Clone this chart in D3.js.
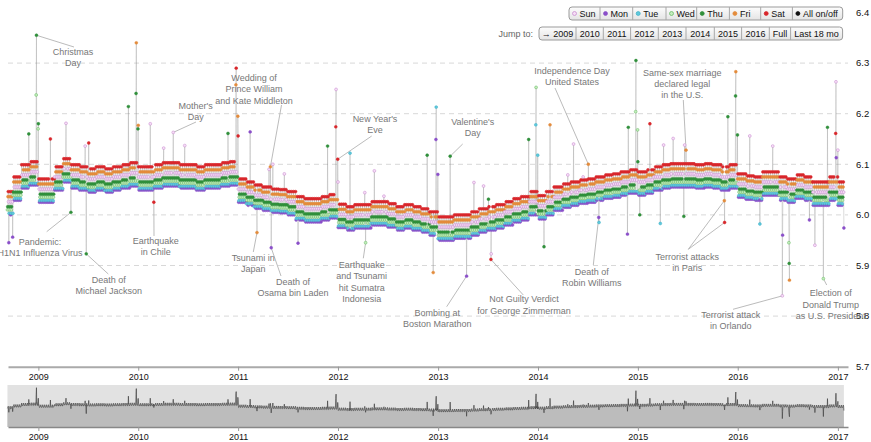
<!DOCTYPE html>
<html>
<head>
<meta charset="utf-8">
<script src="https://cdn.jsdelivr.net/npm/d3@7"></script>
<style>
  body { margin: 0; background: #fff; font-family: "Liberation Sans", Arial, Helvetica, sans-serif; }
  svg { display: block; }
</style>
</head>
<body>
<div id="chart"></div>
<script>
// ---- data ----
// average level per month, Sep 2008 .. Jan 2017
const monthLevel = [
  6.020, 6.049, 6.073, 6.079,
  6.045, 6.045, 6.069, 6.085, 6.073, 6.069, 6.065, 6.069, 6.065, 6.069, 6.073, 6.077,
  6.069, 6.069, 6.073, 6.077, 6.077, 6.073, 6.073, 6.069, 6.073, 6.073, 6.077, 6.079,
  6.045, 6.039, 6.033, 6.029, 6.025, 6.024, 6.020, 6.010, 6.006, 6.006, 6.010, 6.014,
  5.995, 5.990, 5.994, 5.994, 6.000, 6.000, 5.996, 5.990, 5.994, 5.990, 5.986, 5.980,
  5.970, 5.970, 5.974, 5.974, 5.980, 5.986, 5.990, 5.994, 6.000, 6.006, 6.010, 6.020,
  6.012, 6.020, 6.029, 6.035, 6.039, 6.043, 6.045, 6.049, 6.053, 6.055, 6.059, 6.063,
  6.059, 6.063, 6.069, 6.073, 6.075, 6.075, 6.075, 6.073, 6.075, 6.073, 6.069, 6.073,
  6.055, 6.051, 6.049, 6.059, 6.059, 6.049, 6.045, 6.053, 6.049, 6.039, 6.039, 6.049,
  6.039
];
const dayNames = ["Sun", "Mon", "Tue", "Wed", "Thu", "Fri", "Sat"];
const dayOffset = [0.006, -0.020, -0.017, -0.010, -0.004, 0.016, 0.026];

// single days that stand out
const spikeDates = [
  "2008-09-15","2008-09-29","2008-11-27","2008-12-24","2008-12-25","2008-12-31","2009-01-01","2009-02-14",
  "2009-04-12","2009-04-30","2009-06-21","2009-06-25","2009-07-04","2009-11-26","2009-12-24","2009-12-25",
  "2009-12-31","2010-01-01","2010-02-14","2010-02-27","2010-04-04","2010-05-09","2010-06-20","2010-11-25",
  "2010-12-24","2010-12-25","2010-12-31","2011-01-01","2011-02-14","2011-03-11","2011-04-24","2011-04-29",
  "2011-05-02","2011-05-08","2011-06-19","2011-08-08","2011-11-24","2011-12-24","2011-12-25","2011-12-31",
  "2012-01-01","2012-02-14","2012-04-08","2012-04-11","2012-05-13","2012-06-17","2012-11-22","2012-12-14",
  "2012-12-24","2012-12-25","2012-12-31","2013-02-14","2013-04-15","2013-05-12","2013-06-16","2013-07-04",
  "2013-07-13","2013-07-14","2013-11-28","2013-12-24","2013-12-25","2013-12-31","2014-01-23","2014-02-14",
  "2014-04-20","2014-05-11","2014-06-15","2014-07-04","2014-08-11","2014-08-12","2014-11-24","2014-11-27",
  "2014-12-24","2014-12-25","2014-12-31","2015-01-01","2015-01-08","2015-02-14","2015-03-24","2015-04-05",
  "2015-05-10","2015-06-18","2015-06-21","2015-06-26","2015-11-13","2015-11-14","2015-11-26","2015-12-24",
  "2015-12-25","2015-12-31","2016-02-14","2016-03-22","2016-05-08","2016-06-12","2016-06-13","2016-07-06",
  "2016-07-07","2016-07-08","2016-09-19","2016-10-09","2016-11-09","2016-11-24","2016-12-24","2016-12-25",
  "2016-12-26","2017-01-01","2017-01-23"
];
const spikeValues = [
  5.945, 5.956, 6.160, 6.237, 6.355, 6.170, 6.180, 6.150,
  6.181, 6.005, 6.136, 5.923, 6.142, 6.214, 6.240, 6.340,
  6.170, 6.177, 6.180, 6.025, 6.132, 6.163, 6.137, 6.161,
  6.257, 6.290, 6.195, 6.156, 6.164, 5.965, 6.090, 6.095,
  5.935, 6.100, 6.081, 5.944, 6.136, 6.174, 6.248, 6.110,
  6.065, 6.122, 6.044, 5.945, 6.087, 6.037, 6.118, 5.886,
  6.149, 6.213, 6.080, 6.116, 5.879, 6.064, 6.057, 6.031,
  5.912, 5.923, 6.149, 6.178, 6.252, 6.118, 5.937, 6.178,
  6.079, 6.140, 6.075, 6.100, 5.995, 5.985, 5.962, 6.173,
  6.204, 6.305, 6.168, 6.105, 6.000, 6.180, 5.983, 6.138,
  6.151, 5.997, 6.138, 6.128, 6.028, 5.985, 6.194, 6.235,
  6.283, 6.158, 6.156, 5.982, 6.136, 5.840, 5.960, 5.945,
  5.904, 5.871, 5.990, 5.940, 5.874, 6.173, 6.161, 6.263,
  6.113, 6.128, 5.974
];

const yTicks = [5.7, 5.8, 5.9, 6.0, 6.1, 6.2, 6.3, 6.4];
const jumpLabels = ["\u2192 2009", "2010", "2011", "2012", "2013", "2014", "2015", "2016", "Full", "Last 18 mo"];

// ---- styles / layout ----
const width = 871, height = 442;
const dayFill   = ["#f6ddf6", "#8a4fc9", "#5fc8dc", "#c4ecbd", "#2f8f3a", "#e38b3b", "#d8262b", "#111"];
const dayStroke = ["#c487cc", "#8a4fc9", "#3fb0c6", "#62b85e", "#2f8f3a", "#e38b3b", "#d8262b", "#111"];
const dayBtnW = [31, 32.7, 33.3, 30.7, 32.7, 31.3, 31.7, 50.3];
const jumpBtnW = [37, 27.3, 27.3, 27.7, 27.7, 28.3, 27.3, 27.7, 21.3, 52];

// annotation layout: label centre, line start (near label)
const notes = [
  { dates: ["2008-12-25"], text: ["Christmas", "Day"], lx: 73, ly: 52, ex: 74, ey: 47 },
  { dates: ["2010-05-09"], text: ["Mother's", "Day"], lx: 195.7, ly: 106, ex: 196, ey: 122 },
  { dates: ["2011-04-29"], text: ["Wedding of", "Prince William", "and Kate Middleton"], lx: 254, ly: 78, ex: 281.5, ey: 105 },
  { dates: ["2011-12-31"], text: ["New Year's", "Eve"], lx: 375, ly: 119, ex: 371.7, ey: 136 },
  { dates: ["2013-02-14"], text: ["Valentine's", "Day"], lx: 472.7, ly: 121.7, ex: 462.7, ey: 144 },
  { dates: ["2014-07-04"], text: ["Independence Day", "United States"], lx: 572, ly: 71, ex: 555, ey: 88 },
  { dates: ["2015-06-26"], text: ["Same-sex marriage", "declared legal", "in the U.S."], lx: 682.3, ly: 72.7, ex: 683.3, ey: 100 },
  { dates: ["2009-04-30"], text: ["Pandemic:", "H1N1 Influenza Virus"], lx: 40, ly: 241.7, ex: 46.7, ey: 231.7 },
  { dates: ["2009-06-25"], text: ["Death of", "Michael Jackson"], lx: 108.7, ly: 280, ex: 108.3, ey: 274 },
  { dates: ["2010-02-27"], text: ["Earthquake", "in Chile"], lx: 155.8, ly: 240.7, ex: 154, ey: 236 },
  { dates: ["2011-03-11"], text: ["Tsunami in", "Japan"], lx: 253.3, ly: 257.7, ex: 253.3, ey: 252 },
  { dates: ["2011-05-02"], text: ["Death of", "Osama bin Laden"], lx: 293, ly: 281.7, ex: 281, ey: 276 },
  { dates: ["2012-04-11"], text: ["Earthquake", "and Tsunami", "hit Sumatra", "Indonesia"], lx: 361.7, ly: 265, ex: 363.3, ey: 258.3 },
  { dates: ["2013-04-15"], text: ["Bombing at", "Boston Marathon"], lx: 437.3, ly: 312.7, ex: 446.7, ey: 306.7 },
  { dates: ["2013-07-13"], text: ["Not Guilty Verdict", "for George Zimmerman"], lx: 524, ly: 299.3, ex: 523.3, ey: 295 },
  { dates: ["2014-08-11"], text: ["Death of", "Robin Williams"], lx: 591.7, ly: 271.7, ex: 593.3, ey: 265 },
  { dates: ["2015-11-13", "2015-11-14"], text: ["Terrorist attacks", "in Paris"], lx: 687.3, ly: 256.7, ex: 688.3, ey: 249.3 },
  { dates: ["2016-06-12"], text: ["Terrorist attack", "in Orlando"], lx: 730.7, ly: 315, ex: 733, ey: 309.3 },
  { dates: ["2016-11-09"], text: ["Election of", "Donald Trump", "as U.S. President"], lx: 830.7, ly: 293.3, ex: 826.7, ey: 285 }
];

// ---- build daily series ----
const parse = d3.utcParse("%Y-%m-%d");
const fmt = d3.utcFormat("%Y-%m-%d");
const spikeMap = new Map(spikeDates.map((d, i) => [d, spikeValues[i]]));
const days = d3.utcDay.range(parse("2008-09-10"), parse("2017-01-24"));
const data = days.map(d => {
  const m = (d.getUTCFullYear() - 2008) * 12 + d.getUTCMonth() - 8;
  const dow = d.getUTCDay();
  const k = fmt(d);
  const value = spikeMap.has(k) ? spikeMap.get(k) : monthLevel[m] + dayOffset[dow];
  return { date: d, key: k, dow, value };
});
const byKey = new Map(data.map(d => [d.key, d]));

// ---- scales ----
const x = d3.scaleUtc().domain([parse("2008-09-12"), parse("2017-02-07")]).range([8, 848]);
const y = d3.scaleLinear().domain([5.7, 6.4]).range([366.7, 12.5]);
const y2 = d3.scaleLinear().domain([5.7, 6.4]).range([427, 385]);

const svg = d3.select("#chart").append("svg")
  .attr("width", width)
  .attr("height", height)
  .style("font-family", "'Liberation Sans', Arial, Helvetica, sans-serif");

const defs = svg.append("defs");
const grad = defs.append("linearGradient").attr("id", "btn").attr("x1", 0).attr("y1", 0).attr("x2", 0).attr("y2", 1);
grad.append("stop").attr("offset", "0%").attr("stop-color", "#fdfdfd");
grad.append("stop").attr("offset", "100%").attr("stop-color", "#e4e4e4");

// gridlines
svg.append("g")
  .selectAll("line")
  .data(yTicks.filter(t => t > 5.75 && t < 6.35))
  .join("line")
  .attr("x1", 8).attr("x2", 848)
  .attr("y1", d => y(d)).attr("y2", d => y(d))
  .attr("stroke", "#d8d8d8")
  .attr("stroke-dasharray", "5,4");

// y labels on right
svg.append("g")
  .selectAll("text")
  .data(yTicks)
  .join("text")
  .attr("x", 856)
  .attr("y", d => y(d))
  .attr("dy", "0.35em")
  .attr("font-size", 9.5)
  .attr("fill", "#111")
  .text(d => d.toFixed(1));

// day-to-day connecting segments
const segs = d3.pairs(data);
svg.append("g")
  .selectAll("line")
  .data(segs)
  .join("line")
  .attr("x1", d => x(d[0].date)).attr("y1", d => y(d[0].value))
  .attr("x2", d => x(d[1].date)).attr("y2", d => y(d[1].value))
  .attr("stroke", "#888")
  .attr("stroke-opacity", 0.38)
  .attr("stroke-width", 0.8);

// annotation leader lines
const noteG = svg.append("g");
notes.forEach(n => {
  n.dates.forEach(k => {
    const p = byKey.get(k);
    noteG.append("line")
      .attr("x1", x(p.date)).attr("y1", y(p.value))
      .attr("x2", n.ex).attr("y2", n.ey)
      .attr("stroke", "#aaa")
      .attr("stroke-width", 0.8);
  });
});

// dots
svg.append("g")
  .selectAll("circle")
  .data(data)
  .join("circle")
  .attr("cx", d => x(d.date))
  .attr("cy", d => y(d.value))
  .attr("r", 1.45)
  .attr("fill", d => dayFill[d.dow])
  .attr("stroke", d => dayStroke[d.dow])
  .attr("stroke-width", 0.5);

// annotation text
notes.forEach(n => {
  noteG.append("text")
    .attr("text-anchor", "middle")
    .attr("font-size", 9)
    .attr("fill", "#777")
    .selectAll("tspan")
    .data(n.text)
    .join("tspan")
    .attr("x", n.lx)
    .attr("y", (d, i) => n.ly + i * 11.2)
    .attr("dy", "0.35em")
    .text(d => d);
});

// main x axis
const axisMain = svg.append("g")
  .attr("transform", "translate(0,366.7)")
  .call(d3.axisBottom(x).ticks(d3.utcYear.every(1)).tickFormat(d3.utcFormat("%Y")).tickSize(4).tickSizeOuter(0));
axisMain.select(".domain").attr("stroke", "#aaa").attr("stroke-width", 2);
axisMain.selectAll(".tick line").attr("stroke", "#999");
axisMain.selectAll(".tick text").attr("font-size", 9).attr("fill", "#111").attr("font-family", null);

// context chart
const first = data[0].date, last = data[data.length - 1].date;
svg.append("rect")
  .attr("x", x(first)).attr("y", 385)
  .attr("width", x(last) - x(first)).attr("height", 42)
  .attr("fill", "#e2e2e2");
svg.append("path")
  .datum(data)
  .attr("d", d3.area().x(d => x(d.date)).y0(427).y1(d => y2(d.value)))
  .attr("fill", "#bcbcbc");
svg.append("path")
  .datum(data)
  .attr("d", d3.line().x(d => x(d.date)).y(d => y2(d.value)))
  .attr("fill", "none")
  .attr("stroke", "#444")
  .attr("stroke-width", 0.7);

const axisCtx = svg.append("g")
  .attr("transform", "translate(0,427)")
  .call(d3.axisBottom(x).ticks(d3.utcYear.every(1)).tickFormat(d3.utcFormat("%Y")).tickSize(4).tickSizeOuter(0));
axisCtx.select(".domain").attr("stroke", "#888").attr("stroke-width", 1.5);
axisCtx.selectAll(".tick line").attr("stroke", "#999");
axisCtx.selectAll(".tick text").attr("font-size", 9).attr("fill", "#111").attr("font-family", null);

// ---- buttons ----
function buttonRow(labels, widths, x0, y0, h, withDot) {
  const g = svg.append("g");
  let cx = x0;
  const total = d3.sum(widths);
  g.append("rect")
    .attr("x", x0).attr("y", y0).attr("width", total).attr("height", h)
    .attr("rx", 3).attr("fill", "url(#btn)").attr("stroke", "#9a9a9a");
  labels.forEach((lab, i) => {
    const w = widths[i];
    if (i > 0) {
      g.append("line").attr("x1", cx).attr("x2", cx).attr("y1", y0).attr("y2", y0 + h)
        .attr("stroke", "#a8a8a8");
    }
    if (withDot) {
      g.append("circle").attr("cx", cx + 5.5).attr("cy", y0 + h / 2).attr("r", 2)
        .attr("fill", dayFill[i]).attr("stroke", dayStroke[i]).attr("stroke-width", 0.7);
      g.append("text").attr("x", cx + 10.5).attr("y", y0 + h / 2).attr("dy", "0.35em")
        .attr("font-size", 9).attr("fill", "#111").text(lab);
    } else {
      g.append("text").attr("x", cx + w / 2).attr("y", y0 + h / 2).attr("dy", "0.35em")
        .attr("text-anchor", "middle").attr("font-size", 9).attr("fill", "#111").text(lab);
    }
    cx += w;
  });
}
buttonRow([...dayNames, "All on/off"], dayBtnW, 569, 7, 13, true);
buttonRow(jumpLabels, jumpBtnW, 539, 27, 13, false);
svg.append("text")
  .attr("x", 533).attr("y", 33.5).attr("dy", "0.35em")
  .attr("text-anchor", "end").attr("font-size", 9).attr("fill", "#666")
  .text("Jump to:");
</script>
</body>
</html>
